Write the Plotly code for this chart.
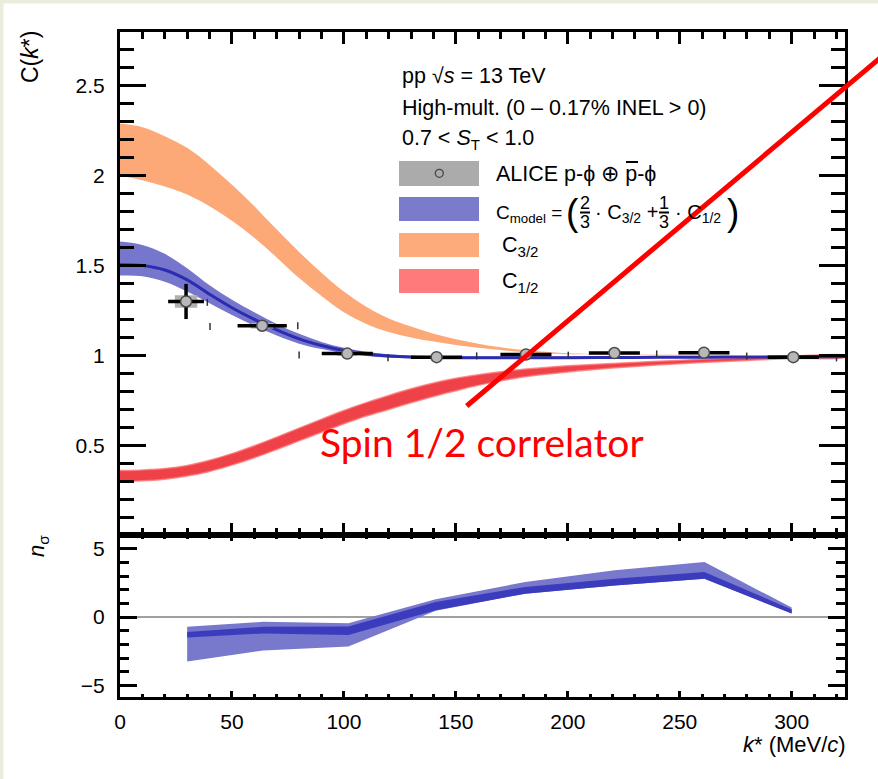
import plotly.graph_objects as go

# ---------------- data ----------------
k_model = [0, 10, 20, 30, 40, 50, 60, 70, 80, 90, 100, 110, 120, 130, 140, 150, 160,
           170, 180, 190, 200, 220, 240, 260, 280, 300, 324]
c32_hi = [2.29, 2.27, 2.22, 2.155, 2.06, 1.95, 1.83, 1.70, 1.575, 1.46, 1.355, 1.27, 1.205,
          1.16, 1.12, 1.09, 1.065, 1.045, 1.03, 1.02, 1.012, 1.006, 1.003, 1.002, 1.001, 1.0, 1.0]
c32_lo = [2.00, 1.975, 1.94, 1.895, 1.83, 1.75, 1.655, 1.545, 1.43, 1.33, 1.24, 1.175, 1.13,
          1.10, 1.077, 1.058, 1.043, 1.03, 1.018, 1.01, 1.006, 1.003, 1.001, 1.0, 1.0, 1.0, 1.0]
cmod_hi = [1.634, 1.615, 1.565, 1.485, 1.39, 1.31, 1.24, 1.175, 1.12, 1.075, 1.042, 1.02, 1.006,
           0.998, 0.994, 0.993, 0.993, 0.993, 0.993, 0.993, 0.993, 0.993, 0.993, 0.994, 0.995, 0.996, 0.997]
cmod_lo = [1.444, 1.44, 1.41, 1.355, 1.29, 1.225, 1.165, 1.11, 1.065, 1.035, 1.012, 0.997, 0.988,
           0.984, 0.982, 0.982, 0.982, 0.982, 0.982, 0.982, 0.982, 0.983, 0.984, 0.985, 0.986, 0.987, 0.989]
cmod_c = [1.505, 1.50, 1.475, 1.42, 1.34, 1.265, 1.20, 1.142, 1.092, 1.055, 1.027, 1.008, 0.997,
          0.991, 0.988, 0.987, 0.987, 0.987, 0.987, 0.987, 0.987, 0.988, 0.989, 0.99, 0.991, 0.992, 0.993]
c12_hi = [0.359, 0.362, 0.37, 0.387, 0.416, 0.453, 0.497, 0.545, 0.595, 0.645, 0.693, 0.737, 0.777,
          0.814, 0.846, 0.872, 0.892, 0.909, 0.922, 0.933, 0.942, 0.955, 0.967, 0.978, 0.988, 0.995, 1.0]
c12_lo = [0.299, 0.302, 0.311, 0.328, 0.354, 0.389, 0.43, 0.476, 0.524, 0.572, 0.619, 0.662, 0.699,
          0.736, 0.771, 0.803, 0.833, 0.858, 0.879, 0.895, 0.908, 0.929, 0.946, 0.96, 0.972, 0.982, 0.99]

k_data = [29.5, 63.5, 101.5, 141.4, 181.3, 220.8, 260.8, 300.7]
c_data = [1.30, 1.165, 1.01, 0.99, 1.005, 1.013, 1.015, 0.99]
c_stat = [0.098, 0.03, 0.012, 0.008, 0.008, 0.008, 0.008, 0.008]
k_err = [8.0, 11.0, 11.4, 11.4, 11.4, 11.4, 11.4, 11.4]
c_syst = [0.035, 0.015, 0.012, 0.006, 0.006, 0.006, 0.006, 0.006]
k_syst = [5.0, 5.0, 4.5, 4.5, 4.5, 4.5, 4.5, 4.5]

k_brk = [39.0, 40.2, 79.4, 80.0, 119.7, 159.3, 200.2, 239.7, 279.9, 320.0]
c_brk = [1.295, 1.16, 1.165, 1.002, 0.986, 0.997, 1.001, 1.008, 0.996, 0.986]

k_ns = [30, 64, 102, 141, 181, 221, 261, 300]
ns_hi = [-0.72, -0.35, -0.45, 1.3, 2.56, 3.42, 4.02, 0.69]
ns_lo = [-3.25, -2.45, -2.15, 0.45, 1.71, 2.3, 2.8, 0.25]
nsd_hi = [-1.1, -0.72, -0.7, 1.1, 2.2, 2.8, 3.3, 0.55]
nsd_lo = [-1.5, -1.2, -1.32, 0.5, 1.71, 2.3, 2.8, 0.25]

x_ticks = [0, 50, 100, 150, 200, 250, 300]
y_ticks_top = [0.5, 1, 1.5, 2, 2.5]
y_ticks_bot = [-5, 0, 5]

# ---------------- geometry helpers ----------------
W, H = 878, 779
L, R, T, B = 120, 33, 32, 82
PW = W - L - R
PH = H - T - B


def px(x):
    return (x - L) / PW


def py(y):
    return (H - B - y) / PH


split = py(535)
FONT = "Liberation Sans, Arial, sans-serif"

fig = go.Figure()


def band(xs, hi, lo, color, xa, ya, line=None, shape="linear"):
    ln = dict(width=0, color=color) if line is None else dict(line)
    ln["shape"] = shape
    fig.add_trace(go.Scatter(
        x=list(xs) + list(xs)[::-1], y=list(hi) + list(lo)[::-1],
        fill="toself", fillcolor=color, mode="lines", line=ln,
        xaxis=xa, yaxis=ya, hoverinfo="skip", showlegend=False))


# upper panel
band(k_model, c32_hi, c32_lo, "#fca877", "x2", "y2", shape="spline")
band(k_model, c12_hi, c12_lo, "rgba(238,50,56,0.92)", "x2", "y2",
     line=dict(width=1.5, color="rgba(255,120,120,0.8)"), shape="spline")
band(k_model, cmod_hi, cmod_lo, "#7676cc", "x2", "y2", shape="spline")
fig.add_trace(go.Scatter(x=k_model, y=cmod_c, mode="lines",
                         line=dict(color="#2c2cb0", width=3, shape="spline"),
                         xaxis="x2", yaxis="y2", hoverinfo="skip", showlegend=False))

# systematic boxes
bx, by = [], []
for k, c, dk, dc in zip(k_data, c_data, k_syst, c_syst):
    bx += [k - dk, k + dk, k + dk, k - dk, k - dk, None]
    by += [c - dc, c - dc, c + dc, c + dc, c - dc, None]
fig.add_trace(go.Scatter(x=bx, y=by, fill="toself", fillcolor="#b0b0b0", mode="lines",
                         line=dict(width=0), xaxis="x2", yaxis="y2",
                         hoverinfo="skip", showlegend=False))
fig.add_trace(go.Scatter(x=k_brk, y=c_brk, mode="markers",
                         marker=dict(symbol="line-ns", size=5,
                                     line=dict(color="#333333", width=1.5)),
                         xaxis="x2", yaxis="y2", hoverinfo="skip", showlegend=False))
fig.add_trace(go.Scatter(
    x=k_data, y=c_data, mode="markers",
    marker=dict(size=11, color="#b8b8b8", line=dict(color="#4a4a4a", width=1.5)),
    error_x=dict(type="data", array=k_err, thickness=3.5, width=0, color="black"),
    error_y=dict(type="data", array=c_stat, thickness=3.5, width=0, color="black"),
    xaxis="x2", yaxis="y2", showlegend=False))

# lower panel
band(k_ns, ns_hi, ns_lo, "#7878cd", "x", "y")
band(k_ns, nsd_hi, nsd_lo, "#3b3bbd", "x", "y")

axis_common = dict(showline=True, linecolor="black", linewidth=3, mirror="allticks",
                   ticks="inside", tickcolor="black", showgrid=False, zeroline=False,
                   tickfont=dict(family=FONT, size=21, color="black"))

fig.update_layout(
    width=W, height=H,
    margin=dict(l=L, r=R, t=T, b=B, autoexpand=False),
    paper_bgcolor="white", plot_bgcolor="white",
    showlegend=False,
    xaxis=dict(axis_common, domain=[0, 1], range=[0, 323.8], anchor="y",
               tickmode="array", tickvals=x_ticks, ticklen=6, tickwidth=3,
               minor=dict(ticks="inside", tickmode="linear", tick0=0, dtick=10,
                          ticklen=3.5, tickwidth=2.5, tickcolor="black"),
               ticklabelstandoff=4),
    xaxis2=dict(axis_common, domain=[0, 1], range=[0, 323.8], anchor="y2", matches="x",
                tickmode="array", tickvals=x_ticks, ticklen=12, tickwidth=3,
                showticklabels=False,
                minor=dict(ticks="inside", tickmode="linear", tick0=0, dtick=10,
                           ticklen=7, tickwidth=2.5, tickcolor="black")),
    yaxis=dict(axis_common, domain=[0, split], range=[-5.85, 6], anchor="x",
               tickmode="array", tickvals=y_ticks_bot, ticklen=17, tickwidth=3,
               zeroline=True, zerolinecolor="#a0a0a0", zerolinewidth=2,
               minor=dict(ticks="inside", tickmode="linear", tick0=0, dtick=1,
                          ticklen=9, tickwidth=2.5, tickcolor="black"),
               ticklabelstandoff=8),
    yaxis2=dict(axis_common, domain=[split, 1], range=[0, 2.8], anchor="x2",
                tickmode="array", tickvals=y_ticks_top, ticklen=26, tickwidth=3,
                minor=dict(ticks="inside", tickmode="linear", tick0=0, dtick=0.1,
                           ticklen=14, tickwidth=2.5, tickcolor="black"),
                ticklabelstandoff=8),
)

ann = []


def txt(s, x, y, size=21.5, xa="left", ya="middle", color="black", family=FONT, angle=0):
    ann.append(dict(text=s, x=px(x), y=py(y), xref="paper", yref="paper",
                    xanchor=xa, yanchor=ya, showarrow=False, textangle=angle,
                    font=dict(size=size, color=color, family=family)))


# axis titles
txt("C(<i>k</i>*)", 30, 29, size=23, xa="center", ya="top", angle=-90)
txt("<i>n</i><sub>σ</sub>", 38, 533, size=22, xa="center", ya="top", angle=-90)
txt("<i>k</i>* (MeV/<i>c</i>)", 848, 744, size=22, xa="right")

# legend header
txt("pp √<i>s</i> = 13 TeV", 400, 76)
txt("High-mult. (0 – 0.17% INEL &gt; 0)", 400, 108)
txt("0.7 &lt; <i>S</i><sub>T</sub> &lt; 1.0", 400, 139)
txt("ALICE p-ϕ ⊕ p-ϕ", 494, 174)
txt("C<sub>model</sub> =", 494, 214, size=19)
txt("(", 564, 213, size=37)
txt("2", 585, 203, size=18, xa="center")
txt("3", 585, 222, size=18, xa="center")
txt("· C<sub>3/2</sub> +", 593, 214, size=20)
txt("1", 664, 203, size=18, xa="center")
txt("3", 664, 222, size=18, xa="center")
txt("· C<sub>1/2</sub>", 673, 214, size=20)
txt(")", 725, 213, size=37)
txt("C<sub>3/2</sub>", 500, 246)
txt("C<sub>1/2</sub>", 500, 282)

# overlay annotation
txt("Spin 1/2 correlator", 318, 442, size=39, color="#ff0000", family="Lato")

fig.update_layout(annotations=ann)

shapes = []
legend_boxes = [(161, 186, "#ababab"), (197, 221, "#7b7bcb"),
                (233, 257, "#fdab7a"), (269, 293, "#ff7a7a")]
for y0, y1, col in legend_boxes:
    shapes.append(dict(type="rect", xref="paper", yref="paper",
                       x0=px(399), x1=px(479), y0=py(y0), y1=py(y1),
                       fillcolor=col, line=dict(width=0)))
shapes.append(dict(type="circle", xref="paper", yref="paper",
                   x0=px(435.3), x1=px(443.3), y0=py(169.3), y1=py(177.3),
                   fillcolor="#ababab", line=dict(color="#444444", width=1.3)))
# overline of anti-proton
shapes.append(dict(type="line", xref="paper", yref="paper",
                   x0=px(626), x1=px(638), y0=py(162), y1=py(162),
                   line=dict(color="black", width=2)))
# fraction bars
for xc in (585, 664):
    shapes.append(dict(type="line", xref="paper", yref="paper",
                       x0=px(xc - 5), x1=px(xc + 5), y0=py(212.5), y1=py(212.5),
                       line=dict(color="black", width=2)))
# red pointer line
shapes.append(dict(type="line", xref="paper", yref="paper",
                   x0=px(466.7), y0=py(406), x1=px(880), y1=py(58),
                   line=dict(color="#ff0000", width=5)))
# thin page border (top and left)
shapes.append(dict(type="line", xref="paper", yref="paper",
                   x0=px(0), x1=px(878), y0=py(1.5), y1=py(1.5),
                   line=dict(color="#eaeedf", width=4), layer="below"))
shapes.append(dict(type="line", xref="paper", yref="paper",
                   x0=px(1.5), x1=px(1.5), y0=py(0), y1=py(779),
                   line=dict(color="#eaeedf", width=4), layer="below"))
fig.update_layout(shapes=shapes)

fig.write_html("out.html")
